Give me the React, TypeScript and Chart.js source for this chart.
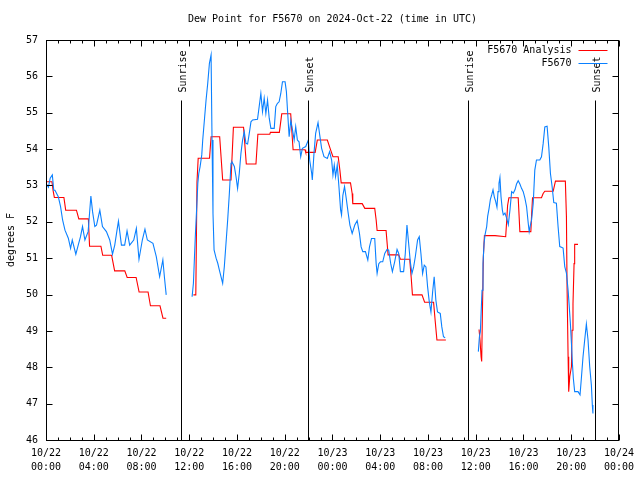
import React, { useEffect, useRef } from "react";
import { Chart, registerables } from "chart.js";

Chart.register(...registerables);

const TITLE = "Dew Point for F5670 on 2024-Oct-22 (time in UTC)";
const Y_LABEL = "degrees F";
const SERIES_LABELS = ["F5670 Analysis", "F5670"];
const RED = "#ff0000";
const BLUE = "#0a80ff";
const FONT = "DejaVu Sans Mono";

// x axis: hours since 2024-10-22 00:00 UTC
const TICK_DATES = ["10/22", "10/22", "10/22", "10/22", "10/22", "10/22", "10/23", "10/23", "10/23", "10/23", "10/23", "10/23", "10/24"];
const TICK_TIMES = ["00:00", "04:00", "08:00", "12:00", "16:00", "20:00", "00:00", "04:00", "08:00", "12:00", "16:00", "20:00", "00:00"];

const SUN_TIMES = [11.35, 21.96, 35.35, 45.96];
const SUN_LABELS = ["Sunrise", "Sunset", "Sunrise", "Sunset"];

// F5670 Analysis (red)
const redT = [
  0.0, 0.5, 0.6, 0.7, 1.5, 1.65, 2.55, 2.75, 3.55, 3.65, 4.6, 4.75, 5.5, 5.75, 6.6, 6.8, 7.55, 7.8, 8.55, 8.75, 9.55, 9.8, 10.07,
  11.0,
  12.35, 12.55, 12.65, 12.75, 13.7, 13.83, 14.55, 14.8, 15.5, 15.7, 16.55, 16.78, 17.59, 17.75, 18.75, 18.8, 19.55, 19.75, 20.5, 20.7,
  21.7, 21.76, 22.55, 22.73, 23.57, 23.85, 24.04, 24.48, 24.62, 24.73, 25.51, 25.65, 25.7, 26.49, 26.71, 27.54, 27.66, 27.74, 28.49,
  28.66, 29.55, 29.69, 30.47, 30.6, 30.7, 31.5, 31.72, 32.47, 32.61, 32.75, 33.5,
  35.0,
  36.28, 36.36, 36.45, 36.5, 36.56, 36.64, 36.73, 37.62, 38.51, 38.6, 38.67, 38.78, 39.56, 39.7, 40.62, 40.68, 40.76, 41.51, 41.65,
  41.79, 42.49, 42.68, 43.51, 43.6, 43.65, 43.74, 43.79, 43.88, 44.02, 44.07, 44.15, 44.24, 44.29, 44.57,
];
const redV = [
  53.1, 53.1, 52.85, 52.67, 52.67, 52.32, 52.32, 52.08, 52.08, 51.33, 51.33, 51.08, 51.08, 50.65, 50.65, 50.47, 50.47, 50.07, 50.07, 49.69, 49.69, 49.35, 49.35,
  null,
  49.99, 49.99, 53.1, 53.75, 53.75, 54.34, 54.34, 53.15, 53.15, 54.6, 54.6, 53.59, 53.59, 54.41, 54.41, 54.46, 54.46, 54.97, 54.97, 53.98,
  53.98, 53.91, 53.91, 54.25, 54.25, 53.97, 53.79, 53.79, 53.42, 53.07, 53.07, 52.78, 52.5, 52.5, 52.37, 52.37, 52.05, 51.76, 51.76,
  51.09, 51.09, 50.97, 50.97, 50.45, 49.99, 49.99, 49.79, 49.79, 49.26, 48.75, 48.75,
  null,
  49.04, 48.75, 48.29, 48.16, 49.48, 51.04, 51.62, 51.62, 51.59, 52.05, 52.45, 52.66, 52.66, 51.73, 51.73, 52.17, 52.66, 52.66, 52.78,
  52.84, 52.84, 53.12, 53.12, 52.15, 50.29, 48.29, 47.33, 47.74, 48.02, 49.02, 49.75, 50.85, 51.38, 51.38,
];

// F5670 observations (blue)
const blueT = [
  0.0, 0.2, 0.35, 0.53, 0.65, 0.75, 1.03, 1.22, 1.39, 1.59, 1.87, 2.06, 2.2, 2.5, 2.7, 2.89, 3.06, 3.26, 3.53, 3.76, 3.9, 4.09, 4.23,
  4.51, 4.73, 5.06, 5.34, 5.57, 5.76, 5.95, 6.07, 6.32, 6.59, 6.79, 7.01, 7.35, 7.57, 7.79, 8.07, 8.29, 8.49, 8.96, 9.24, 9.52, 9.79,
  9.93, 10.07,
  11.0,
  12.24, 12.35, 12.44, 12.52, 12.63, 12.72, 12.8, 12.91, 13.05, 13.13, 13.27, 13.41, 13.55, 13.69, 13.83, 13.91, 13.99, 14.08, 14.25,
  14.39, 14.52, 14.66, 14.8, 14.94, 15.08, 15.22, 15.36, 15.5, 15.58, 15.78, 15.92, 16.05, 16.19, 16.33, 16.47, 16.61, 16.75, 16.89,
  17.03, 17.17, 17.31, 17.72, 17.86, 18.0, 18.14, 18.28, 18.42, 18.56, 18.7, 18.84, 19.12, 19.25, 19.39, 19.53, 19.67, 19.81, 20.03,
  20.14, 20.23, 20.37, 20.51, 20.65, 20.79, 20.92, 21.06,
  21.2, 21.34, 21.48, 21.76, 21.98, 22.09, 22.26, 22.31, 22.45, 22.59, 22.79, 22.93, 23.09, 23.29, 23.57, 23.76, 23.93, 24.04, 24.15,
  24.26, 24.4, 24.54, 24.68, 24.76, 24.87, 25.01, 25.15, 25.32, 25.46, 25.65, 25.87, 26.07, 26.26, 26.4, 26.54, 26.76, 26.96, 27.1,
  27.27, 27.54, 27.66, 27.74, 27.88, 28.02, 28.21, 28.38, 28.57, 28.71, 28.88, 29.02, 29.21, 29.41, 29.55, 29.69, 29.96, 30.1, 30.24,
  30.38, 30.52, 30.66, 30.8, 30.94, 31.13, 31.27, 31.41, 31.55, 31.69, 31.83, 31.97, 32.11, 32.25, 32.39, 32.52, 32.66, 32.8, 33.03,
  33.16, 33.3, 33.44,
  35.0,
  36.22, 36.31, 36.39, 36.45, 36.53, 36.61, 36.7, 36.78, 36.92, 37.0, 37.12, 37.23, 37.34, 37.45, 37.56, 37.67, 37.78, 37.87, 37.95,
  38.03, 38.12, 38.23, 38.31, 38.45, 38.59, 38.73, 38.87, 39.01, 39.15, 39.29, 39.42, 39.56, 39.7, 39.84, 39.98, 40.12, 40.26, 40.4,
  40.48, 40.59, 40.68, 40.82, 40.95, 41.09, 41.37, 41.51, 41.65, 41.79, 41.98, 42.12, 42.26, 42.4, 42.54, 42.76, 42.9, 43.04, 43.18,
  43.32, 43.46, 43.6, 43.74, 43.82, 43.93, 44.02, 44.1, 44.18, 44.29, 44.57, 44.74, 44.85, 44.99, 45.13, 45.27, 45.41, 45.55, 45.69,
  45.77, 45.82,
];
const blueV = [
  53.06, 52.95, 53.2, 53.29, 52.87, 52.87, 52.69, 52.42, 52.05, 51.77, 51.55, 51.27, 51.5, 51.11, 51.36, 51.59, 51.87, 51.5, 51.73, 52.71, 52.28, 51.87, 51.91,
  52.32, 51.87, 51.73, 51.5, 51.11, 51.36, 51.77, 52.02, 51.36, 51.36, 51.75, 51.36, 51.5, 51.82, 50.97, 51.5, 51.8, 51.5, 51.41, 51.04, 50.49, 50.95,
  50.45, 49.99,
  null,
  49.94, 50.31, 51.04, 51.68, 52.42, 53.06, 53.33, 53.52, 53.84, 54.25, 54.8, 55.35, 55.81, 56.36, 56.59, 54.25, 52.23, 51.23, 51.0,
  50.86, 50.68, 50.49, 50.31, 50.77, 51.41, 52.05, 52.78, 53.61, 53.65, 53.52, 53.24, 52.92, 53.33, 53.88, 54.25, 54.48, 54.16, 54.14,
  54.43, 54.75, 54.8, 54.82, 55.17, 55.53, 55.03, 55.4, 54.98, 55.35, 54.85, 54.57, 54.57, 55.17, 55.26, 55.3, 55.53, 55.85, 55.85,
  55.58, 55.08, 54.34, 54.8, 54.53, 54.25, 54.62, 54.25,
  54.2, 53.79, 54.02, 54.07, 54.25, 53.7, 53.33, 53.15, 53.88, 54.43, 54.73, 54.39, 54.02, 53.79, 53.74, 53.93, 53.7, 53.29, 53.56,
  53.24, 53.56, 52.97, 52.33, 52.19, 52.73, 52.97, 52.65, 52.23, 51.91, 51.68, 51.91, 52.03, 51.68, 51.31, 51.18, 51.18, 50.95, 51.31,
  51.54, 51.54, 50.85, 50.58, 50.85, 50.9, 50.9, 51.13, 51.24, 51.22, 50.85, 50.63, 50.9, 51.24, 51.13, 50.63, 50.63, 51.13, 51.91,
  51.41, 50.9, 50.58, 50.76, 51.04, 51.5, 51.59, 51.13, 50.58, 50.81, 50.76, 50.21, 49.8, 49.52, 50.07, 50.49, 49.85, 49.52, 49.48,
  49.11, 48.84, 48.81,
  null,
  48.43, 48.84, 48.98, 49.48, 50.12, 50.85, 51.41, 51.64, 51.87, 52.15, 52.37, 52.62, 52.74, 52.88, 52.68, 52.56, 52.4, 52.83, 53.06,
  53.22, 52.69, 52.33, 52.19, 52.24, 52.1, 51.92, 52.33, 52.83, 52.79, 52.88, 53.04, 53.13, 53.04, 52.92, 52.83, 52.65, 52.42, 51.96,
  51.73, 51.92, 52.05, 52.51, 53.42, 53.7, 53.7, 53.79, 54.15, 54.61, 54.63, 54.06, 53.33, 52.97, 52.53, 52.51, 51.87, 51.32, 51.3,
  51.28, 50.77, 50.59, 50.12, 49.75, 49.21, 48.66, 48.11, 47.69, 47.33, 47.33, 47.24, 47.69, 48.29, 48.75, 49.19, 48.75, 48.02, 47.51,
  46.96, 46.73,
];

const X_MIN = 0;
const X_MAX = 48;
const Y_MIN = 46;
const Y_MAX = 57;

const gnuplotPlugin = {
  id: "gnuplotDecor",
  afterDatasetsDraw(chart: any) {
    const { ctx, chartArea: a, scales } = chart;
    const xs = scales.x;
    const ys = scales.y;
    const L = Math.floor(a.left) + 0.5;
    const R = Math.floor(a.right) + 0.5;
    const T = Math.floor(a.top) + 0.5;
    const B = Math.floor(a.bottom) + 0.5;
    const line = (x1: number, y1: number, x2: number, y2: number) => {
      ctx.beginPath();
      ctx.moveTo(x1, y1);
      ctx.lineTo(x2, y2);
      ctx.stroke();
    };
    ctx.save();
    ctx.strokeStyle = "#000";
    ctx.fillStyle = "#000";
    ctx.lineWidth = 1;
    ctx.font = `10px "${FONT}"`;

    // title, centred over the plot area
    ctx.textAlign = "center";
    ctx.textBaseline = "middle";
    ctx.fillText(TITLE, (L + R) / 2, T - 21);

    // sunrise / sunset markers
    SUN_TIMES.forEach((t, i) => {
      const px = Math.round(xs.getPixelForValue(t)) + 0.5;
      line(px, T + 60, px, B);
      ctx.save();
      ctx.translate(px + 2, T + 52);
      ctx.rotate(-Math.PI / 2);
      ctx.textAlign = "left";
      ctx.textBaseline = "middle";
      ctx.fillText(SUN_LABELS[i], 0, 0);
      ctx.restore();
    });

    // frame
    ctx.strokeRect(L, T, R - L, B - T);

    // x ticks (major every 4h, minor every hour), mirrored
    for (let h = X_MIN; h <= X_MAX; h += 1) {
      const px = Math.round(xs.getPixelForValue(h)) + 0.5;
      const len = h % 4 === 0 ? 6 : 3;
      line(px, B, px, B - len);
      line(px, T, px, T + len);
    }
    // y ticks, mirrored
    for (let v = Y_MIN; v <= Y_MAX; v += 1) {
      const py = Math.round(ys.getPixelForValue(v)) + 0.5;
      line(L, py, L + 6, py);
      line(R, py, R - 6, py);
    }

    // legend (inside, top right)
    const legendColors = [RED, BLUE];
    SERIES_LABELS.forEach((label, i) => {
      const yy = Math.floor(a.top) + 10 + i * 13;
      ctx.fillStyle = "#000";
      ctx.textAlign = "right";
      ctx.textBaseline = "middle";
      ctx.fillText(label, R - 47, yy + 0.5);
      ctx.strokeStyle = legendColors[i];
      line(R - 40, yy + 0.5, R - 11, yy + 0.5);
    });
    ctx.restore();
  },
};

export default function App() {
  const ref = useRef<HTMLCanvasElement | null>(null);

  useEffect(() => {
    if (!ref.current) return;
    const toPts = (ts: number[], vs: (number | null)[]) => ts.map((t, i) => ({ x: t, y: vs[i] }));
    const chart = new Chart(ref.current, {
      type: "line",
      data: {
        datasets: [
          {
            label: SERIES_LABELS[0],
            data: toPts(redT, redV),
            borderColor: RED,
            borderWidth: 1.1,
            pointRadius: 0,
            spanGaps: false,
            order: 2,
          },
          {
            label: SERIES_LABELS[1],
            data: toPts(blueT, blueV),
            borderColor: BLUE,
            borderWidth: 1.1,
            pointRadius: 0,
            spanGaps: false,
            order: 1,
          },
        ],
      },
      options: {
        animation: false,
        responsive: false,
        devicePixelRatio: 1,
        layout: { padding: { left: 0, right: 19, top: 40, bottom: 0 } },
        plugins: {
          legend: { display: false },
          tooltip: { enabled: false },
          title: { display: false },
        },
        scales: {
          x: {
            type: "linear",
            min: X_MIN,
            max: X_MAX,
            grid: { display: false, drawTicks: false },
            border: { display: false },
            ticks: {
              stepSize: 4,
              autoSkip: false,
              maxRotation: 0,
              padding: 6,
              color: "#000",
              font: { family: FONT, size: 10, lineHeight: 1.4 },
              callback: (_v: any, i: number) => [TICK_DATES[i], TICK_TIMES[i]],
            },
            afterFit: (s: any) => {
              s.height = 40;
            },
          },
          y: {
            min: Y_MIN,
            max: Y_MAX,
            grid: { display: false, drawTicks: false },
            border: { display: false },
            ticks: {
              stepSize: 1,
              padding: 8,
              color: "#000",
              font: { family: FONT, size: 10 },
            },
            title: {
              display: true,
              text: Y_LABEL,
              color: "#000",
              font: { family: FONT, size: 10 },
              padding: { top: 5, bottom: 0 },
            },
            afterFit: (s: any) => {
              s.width = 46;
            },
          },
        },
      },
      plugins: [gnuplotPlugin],
    } as any);
    return () => chart.destroy();
  }, []);

  return (
    <div style={{ position: "absolute", left: 0, top: 0, width: 640, height: 480, background: "#fff" }}>
      <canvas ref={ref} width={640} height={480} />
    </div>
  );
}
